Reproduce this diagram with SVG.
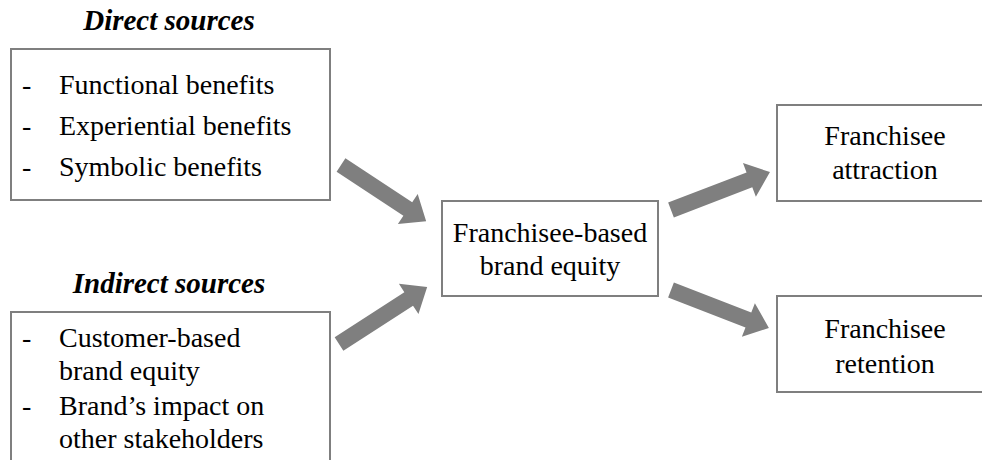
<svg xmlns="http://www.w3.org/2000/svg" width="982" height="460" viewBox="0 0 982 460">
<defs>
<style>
.box{fill:#fff;stroke:#7f7f7f;stroke-width:2}
.t{font-family:"Liberation Serif","Times New Roman",serif;font-size:28px;fill:#000}
.h{font-family:"Liberation Serif","Times New Roman",serif;font-size:29px;font-weight:bold;font-style:italic;fill:#000}
.c{text-anchor:middle}
.arr{fill:#7f7f7f}
</style>
</defs>
<rect width="982" height="460" fill="#fff"/>
<g id="direct">
<text class="h" x="169" y="30" text-anchor="middle">Direct sources</text>
<rect class="box" x="11" y="49" width="319" height="151"/>
<text class="t" x="22" y="94">-</text><text class="t" x="59" y="94">Functional benefits</text>
<text class="t" x="22" y="135">-</text><text class="t" x="59" y="135">Experiential benefits</text>
<text class="t" x="22" y="176">-</text><text class="t" x="59" y="176">Symbolic benefits</text>
</g>
<g id="indirect">
<text class="h" x="169" y="293" text-anchor="middle">Indirect sources</text>
<rect class="box" x="11" y="312" width="319" height="160"/>
<text class="t" x="22" y="347">-</text><text class="t" x="59" y="347">Customer-based</text>
<text class="t" x="59" y="380">brand equity</text>
<text class="t" x="22" y="415">-</text><text class="t" x="59" y="415">Brand’s impact on</text>
<text class="t" x="59" y="448">other stakeholders</text>
</g>
<g id="fbbe">
<rect class="box" x="442" y="201" width="216" height="95"/>
<text class="t c" x="550" y="242">Franchisee-based</text>
<text class="t c" x="550" y="275">brand equity</text>
</g>
<g id="attraction">
<rect class="box" x="777" y="105" width="210" height="96"/>
<text class="t c" x="885" y="145">Franchisee</text>
<text class="t c" x="885" y="179">attraction</text>
</g>
<g id="retention">
<rect class="box" x="777" y="296" width="210" height="96"/>
<text class="t c" x="885" y="338">Franchisee</text>
<text class="t c" x="885" y="373">retention</text>
</g>
<g id="connectors" class="arr">
<polygon transform="translate(341,165) rotate(33.4)" points="0,-8 80,-8 80,-18 102,0 80,18 80,8 0,8"/>
<polygon transform="translate(339,344) rotate(-32.9)" points="0,-8 83,-8 83,-18 105,0 83,18 83,8 0,8"/>
<polygon transform="translate(671,210) rotate(-21)" points="0,-8 84,-8 84,-18 106,0 84,18 84,8 0,8"/>
<polygon transform="translate(671,290) rotate(21.2)" points="0,-8 83,-8 83,-18 105,0 83,18 83,8 0,8"/>
</g>
</svg>
